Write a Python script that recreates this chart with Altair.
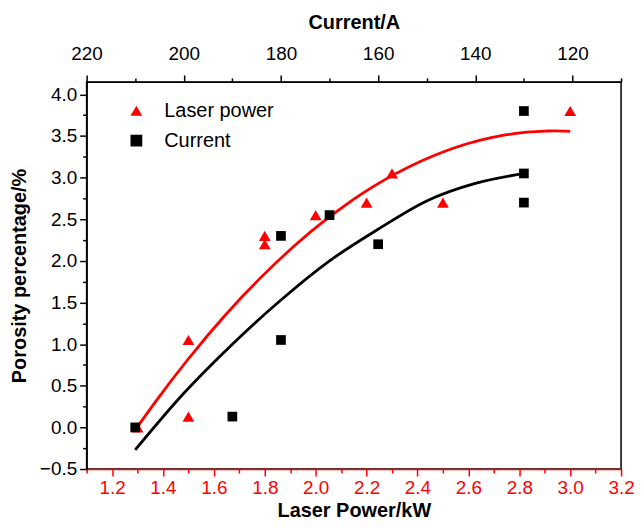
import altair as alt
import pandas as pd

FONT = "Liberation Sans"

# Laser power series (bottom axis, kW)
laser_kw = [1.3, 1.5, 1.5, 1.8, 1.8, 2.0, 2.2, 2.3, 2.5, 3.0]
laser_por = [0.0, 1.05, 0.13, 2.3, 2.2, 2.55, 2.7, 3.05, 2.7, 3.8]

# Current series (top axis, A)
current_a = [210, 190, 180, 180, 170, 160, 130, 130, 130]
current_por = [0.0, 0.13, 1.05, 2.3, 2.55, 2.2, 3.8, 3.05, 2.7]

# Black fitted curve
curve_a = [210, 200, 190, 180, 170, 160, 150, 140, 130]
curve_por = [-0.27, 0.41, 1.0, 1.53, 2.0, 2.38, 2.72, 2.93, 3.05]

# Tick values
kw_ticks = [1.1, 1.2, 1.3, 1.4, 1.5, 1.6, 1.7, 1.8, 1.9, 2.0, 2.1, 2.2, 2.3, 2.4,
            2.5, 2.6, 2.7, 2.8, 2.9, 3.0, 3.1, 3.2]
a_ticks = [110, 120, 130, 140, 150, 160, 170, 180, 190, 200, 210, 220]
y_ticks = [-0.5, -0.25, 0.0, 0.25, 0.5, 0.75, 1.0, 1.25, 1.5, 1.75, 2.0, 2.25,
           2.5, 2.75, 3.0, 3.25, 3.5, 3.75, 4.0]

series_names = ["Laser power", "Current"]

df_laser = pd.DataFrame({"kw": laser_kw, "por": laser_por, "series": "Laser power"})
df_cur = pd.DataFrame({"current": current_a, "por": current_por, "series": "Current"})
df_curve = pd.DataFrame({"current": curve_a, "por": curve_por})

RED = "#ff0000"

y_axis = alt.Axis(
    values=y_ticks,
    labelExpr="round(datum.value*4) % 2 == 0 ? format(datum.value, '.1f') : ''",
    tickSize={"condition": {"test": "round(datum.value*4) % 2 == 0", "value": 7}, "value": 4},
    labelFontSize=19, labelFont=FONT, labelColor="black", labelPadding=3,
    labelFlush=False, labelOverlap=False,
    title="Porosity percentage/%", titleFontSize=20, titleFont=FONT,
    titleFontWeight="bold", titleColor="black", titlePadding=10,
    domainColor="black", tickColor="black", domainWidth=1.5, tickWidth=1.5,
    grid=False,
)
y_scale = alt.Scale(domain=[-0.5, 4.15], nice=False, zero=False)
y_enc = alt.Y("por:Q", scale=y_scale, axis=y_axis)

x_axis_kw = alt.Axis(
    orient="bottom", values=kw_ticks,
    labelExpr="round(datum.value*10) % 2 == 0 ? format(datum.value, '.1f') : ''",
    tickSize={"condition": {"test": "round(datum.value*10) % 2 == 0", "value": 7}, "value": 4},
    labelFontSize=19, labelFont=FONT, labelColor=RED, labelPadding=3,
    labelFlush=False, labelOverlap=False,
    title="Laser Power/kW", titleFontSize=20, titleFont=FONT,
    titleFontWeight="bold", titleColor="black", titlePadding=3,
    domainColor=RED, tickColor=RED, domainWidth=1.5, tickWidth=1.5, grid=False,
)
x_enc_kw = alt.X("kw:Q", scale=alt.Scale(domain=[1.1, 3.2], nice=False, zero=False),
                 axis=x_axis_kw)

x_axis_a = alt.Axis(
    orient="top", values=a_ticks,
    labelExpr="round(datum.value) % 20 == 0 ? format(datum.value, 'd') : ''",
    tickSize={"condition": {"test": "round(datum.value) % 20 == 0", "value": 7}, "value": 4},
    labelFontSize=19, labelFont=FONT, labelColor="black", labelPadding=11,
    labelFlush=False, labelOverlap=False,
    title="Current/A", titleFontSize=20, titleFont=FONT,
    titleFontWeight="bold", titleColor="black", titlePadding=13,
    domainColor="black", tickColor="black", domainWidth=1.5, tickWidth=1.5, grid=False,
)
x_enc_a = alt.X("current:Q", scale=alt.Scale(domain=[110, 220], reverse=True, nice=False,
                                             zero=False), axis=x_axis_a)

legend_def = alt.Legend(orient="none", legendX=40, legendY=19, title=None,
                        labelFontSize=20, labelFont=FONT, labelColor="black",
                        symbolSize=140, rowPadding=10, labelOffset=18,
                        padding=0, symbolStrokeWidth=0)
color_enc = alt.Color("series:N", scale=alt.Scale(domain=series_names, range=[RED, "black"]),
                      legend=legend_def)
shape_enc = alt.Shape("series:N", scale=alt.Scale(domain=series_names,
                                                   range=["triangle-up", "square"]),
                      legend=legend_def)

red_line = alt.Chart(df_laser).transform_regression(
    "kw", "por", method="poly", order=2, extent=[1.3, 3.0]
).mark_line(color=RED, strokeWidth=2.8).encode(x=x_enc_kw, y=y_enc)

red_pts = alt.Chart(df_laser).mark_point(filled=True, size=140, opacity=1).encode(
    x=x_enc_kw, y=y_enc, color=color_enc, shape=shape_enc)

black_line = alt.Chart(df_curve).mark_line(color="black", strokeWidth=2.8,
                                           interpolate="monotone").encode(x=x_enc_a, y=y_enc)
black_pts = alt.Chart(df_cur).mark_point(filled=True, size=95, opacity=1).encode(
    x=x_enc_a, y=y_enc, color=color_enc, shape=shape_enc)

layer_kw = alt.layer(red_line, red_pts)
layer_a = alt.layer(black_line, black_pts)

chart = alt.layer(layer_kw, layer_a).resolve_scale(x="independent").properties(
    width=537, height=389,
    autosize=alt.AutoSizeParams(type="none"),
    padding={"left": 79, "top": 73, "right": 15, "bottom": 54},
    background="white",
).configure_view(stroke="black", strokeWidth=1.5)

chart.save("out.html", embed_options={"renderer": "svg", "actions": False})
